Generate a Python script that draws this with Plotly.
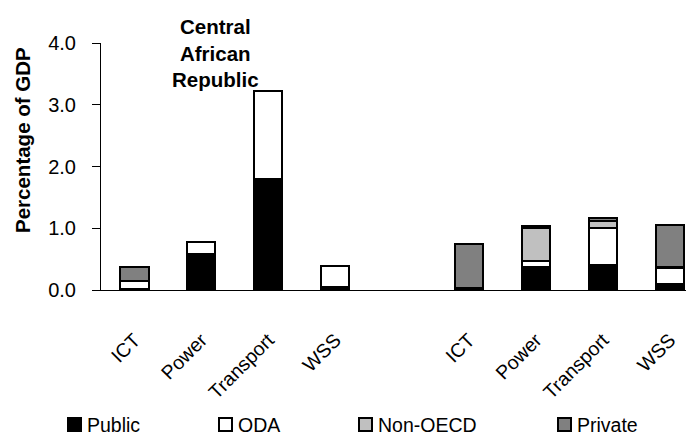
import plotly.graph_objects as go

groups = ["Central African Republic", "Fragile States"]
sectors = ["ICT", "Power", "Transport", "WSS"]

# values (% of GDP), order: CAR ICT, Power, Transport, WSS, FS ICT, Power, Transport, WSS
public = [0.01, 0.58, 1.79, 0.05, 0.02, 0.37, 0.40, 0.10]
oda = [0.13, 0.19, 1.44, 0.34, 0.02, 0.10, 0.60, 0.25]
non_oecd = [0.00, 0.00, 0.00, 0.00, 0.00, 0.53, 0.12, 0.03]
private = [0.24, 0.00, 0.00, 0.00, 0.70, 0.03, 0.05, 0.68]

series_names = ["Public", "ODA", "Non-OECD", "Private"]
series_colors = ["#000000", "#ffffff", "#c0c0c0", "#808080"]

cats = [f"{g}|{s}" for g in groups for s in sectors]
spacer = "gap"
category_order = cats[:4] + [spacer] + cats[4:]
xpos = [category_order.index(c) for c in cats]
tick_text = sectors + sectors

FONT = "Liberation Sans, Arial, sans-serif"
W, H = 694, 435
OFF = 8  # page body margin
ML, MT = 101 - OFF, 43 - OFF
PLOT_BOTTOM = 290 - OFF
PLOT_RIGHT = 690 - OFF
MB, MR = H - PLOT_BOTTOM, W - PLOT_RIGHT
PW, PH = W - ML - MR, H - MT - MB


def px_x(px):
    return (px - OFF - ML) / PW


def px_y(py):
    return (PLOT_BOTTOM - (py - OFF)) / PH


fig = go.Figure()
for name, vals, col in zip(series_names, [public, oda, non_oecd, private], series_colors):
    fig.add_trace(go.Bar(
        x=xpos, y=vals, name=name,
        marker=dict(color=col, line=dict(color="black", width=2)),
        width=0.42,
    ))

fig.update_layout(
    width=W, height=H,
    margin=dict(l=ML, r=MR, t=MT, b=MB, autoexpand=False),
    plot_bgcolor="white", paper_bgcolor="white",
    barmode="stack",
    font=dict(family=FONT, size=19, color="black"),
    showlegend=False,
)

fig.update_xaxes(
    tickmode="array", tickvals=xpos, ticktext=tick_text,
    tickangle=-45, ticks="", ticklabelstandoff=30,
    range=[-0.5, 8.3], automargin=False,
    showline=True, linecolor="black", linewidth=1,
    showgrid=False, zeroline=False,
    tickfont=dict(family=FONT, size=19.5, color="black"),
)
fig.update_yaxes(
    range=[0, 4], dtick=1, tickformat=".1f", automargin=False,
    ticks="outside", ticklen=8, tickcolor="black", ticklabelstandoff=12,
    showline=True, linecolor="black", linewidth=1,
    showgrid=False, zeroline=False,
    tickfont=dict(family=FONT, size=20, color="black"),
)

# y-axis title (placed as in the reference, above the axis centre)
fig.add_annotation(x=px_x(22), y=px_y(140), xref="paper", yref="paper",
                   text="<b>Percentage of GDP</b>", textangle=-90, showarrow=False,
                   xanchor="center", yanchor="middle",
                   font=dict(family=FONT, size=20.5, color="black"))

fig.add_annotation(x=1.21, y=3.84, xref="x", yref="y", text="<b>Central<br>African<br>Republic</b>",
                   showarrow=False, font=dict(family=FONT, size=20.5, color="black"), yanchor="middle")
fig.add_annotation(x=6.73, y=4.1, xref="x", yref="y", text="<b>Fragile<br>States</b>",
                   showarrow=False, font=dict(family=FONT, size=20.5, color="black"), yanchor="middle")

# manual legend (reference pixel positions)
legend_square_px = [67, 218, 358, 557]
for name, col, sx in zip(series_names, series_colors, legend_square_px):
    fig.add_shape(type="rect", xref="paper", yref="paper",
                  x0=px_x(sx + 1), x1=px_x(sx + 14), y0=px_y(431), y1=px_y(418),
                  fillcolor=col, line=dict(color="black", width=2))
    fig.add_annotation(x=px_x(sx + 18), y=px_y(425), xref="paper", yref="paper",
                       text=name, showarrow=False, xanchor="left", yanchor="middle",
                       font=dict(family=FONT, size=19.5, color="black"))

fig.write_html("out.html")
